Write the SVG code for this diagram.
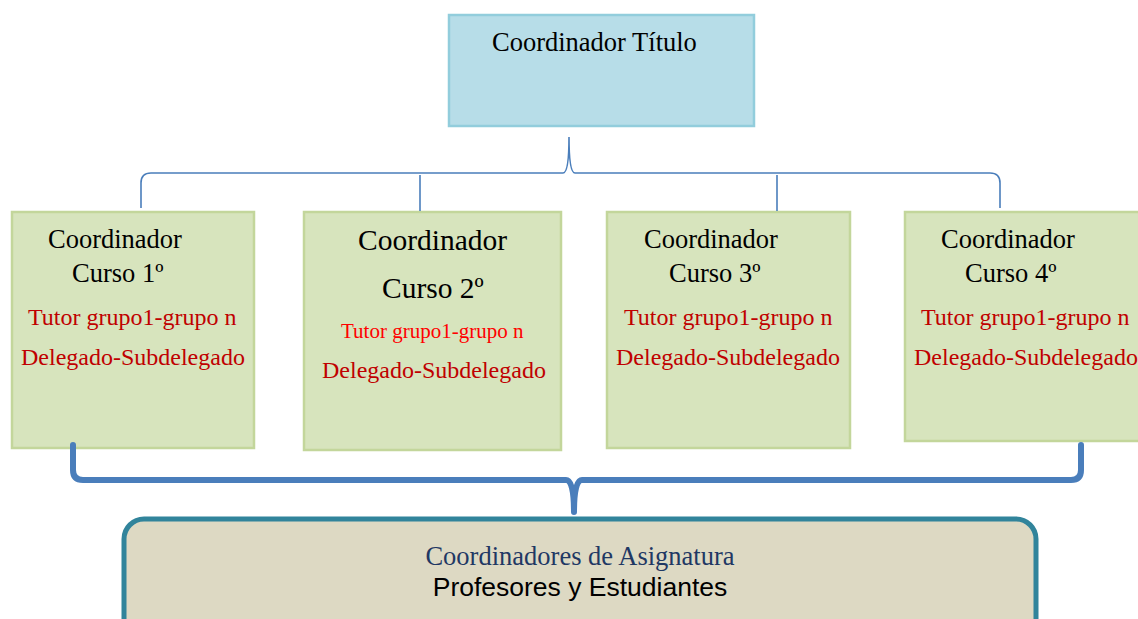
<svg xmlns="http://www.w3.org/2000/svg" width="1138" height="619" viewBox="0 0 1138 619">
<style>
.title{fill:#b7dde8;stroke:#92cddc;stroke-width:2.5}
.curso{fill:#d7e4bd;stroke:#c3d69b;stroke-width:2.5}
.base{fill:#ddd9c3;stroke:#31849b;stroke-width:5}
.t{font-family:"Liberation Serif","Times New Roman",serif;fill:#000}
.red{font-family:"Liberation Serif","Times New Roman",serif;fill:#c00000;font-size:24px}
.thin{fill:none;stroke:#4a7ebb;stroke-width:1.6}
.thick{fill:none;stroke:#4a7ebb;stroke-width:6;stroke-linecap:round;stroke-linejoin:round}
</style>
<rect width="1138" height="619" fill="#fff"/>
<g id="coord-titulo">
<rect class="title" x="449" y="15" width="305" height="111"/>
<text class="t" x="492" y="51" font-size="26.5">Coordinador Título</text>
</g>
<g id="curso1">
<rect class="curso" x="12" y="212" width="242" height="236"/>
<text class="t" x="48" y="248" font-size="26.5">Coordinador</text>
<text class="t" x="72" y="282" font-size="26.5">Curso 1º</text>
<text class="red" x="28" y="325">Tutor grupo1-grupo n</text>
<text class="red" x="21" y="365">Delegado-Subdelegado</text>
</g>
<g id="curso2">
<rect class="curso" x="304" y="212" width="257" height="238"/>
<text class="t" x="358" y="250" font-size="29.5">Coordinador</text>
<text class="t" x="382" y="298" font-size="29.5">Curso 2º</text>
<text class="red" x="341" y="338" style="fill:#ff0000;font-size:21px">Tutor grupo1-grupo n</text>
<text class="red" x="322" y="378">Delegado-Subdelegado</text>
</g>
<g id="curso3">
<rect class="curso" x="607" y="212" width="243" height="236"/>
<text class="t" x="644" y="248" font-size="26.5">Coordinador</text>
<text class="t" x="669" y="282" font-size="26.5">Curso 3º</text>
<text class="red" x="624" y="325">Tutor grupo1-grupo n</text>
<text class="red" x="616" y="365">Delegado-Subdelegado</text>
</g>
<g id="curso4">
<rect class="curso" x="905" y="212" width="245" height="229"/>
<text class="t" x="941" y="248" font-size="26.5">Coordinador</text>
<text class="t" x="965" y="282" font-size="26.5">Curso 4º</text>
<text class="red" x="921" y="325">Tutor grupo1-grupo n</text>
<text class="red" x="914" y="365">Delegado-Subdelegado</text>
</g>
<g id="asignatura">
<rect class="base" x="124" y="519" width="912" height="140" rx="20"/>
<text x="580" y="565" text-anchor="middle" font-family="Liberation Serif, Times New Roman, serif" font-size="26.5" fill="#1f3864">Coordinadores de Asignatura</text>
<text x="580" y="596" text-anchor="middle" font-family="Liberation Sans, Arial, sans-serif" font-size="26.5" fill="#000">Profesores y Estudiantes</text>
</g>
<g id="connectors">
<path class="thin" d="M141,208 L141,183 Q141,173 151,173 L563,173 Q569,173 569,137 Q569,173 575,173 L990,173 Q1000,173 1000,183 L1000,208"/>
<line class="thin" x1="420" y1="175" x2="420" y2="211"/>
<line class="thin" x1="777" y1="175" x2="777" y2="211"/>
<path class="thick" d="M73,445 L73,470 Q73,480 83,480 L566,480 Q574,480 574,512 Q574,480 582,480 L1071,480 Q1081,480 1081,470 L1081,445"/>
</g>
</svg>
